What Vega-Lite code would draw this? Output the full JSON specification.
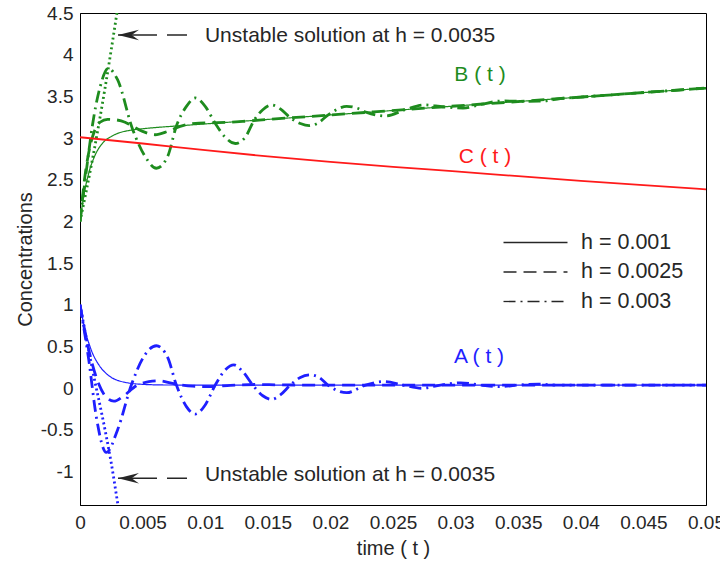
{
  "$schema": "https://vega.github.io/schema/vega-lite/v6.json",
  "width": 626,
  "height": 492,
  "autosize": {"type": "none"},
  "padding": {"left": 80, "top": 13, "right": 14, "bottom": 57},
  "background": "white",
  "config": {
    "font": "Liberation Sans",
    "view": {"stroke": "#000000", "strokeWidth": 1},
    "axis": {
      "domainColor": "#000000",
      "domainWidth": 1,
      "ticks": false,
      "grid": false,
      "labelFont": "Liberation Sans",
      "labelFontSize": 19,
      "labelColor": "#262626",
      "titleFont": "Liberation Sans",
      "titleFontSize": 20,
      "titleFontWeight": "normal",
      "titleColor": "#262626"
    }
  },
  "datasets": {
    "xticks": [
      {"t": 0.005}, {"t": 0.01}, {"t": 0.015}, {"t": 0.02}, {"t": 0.025},
      {"t": 0.03}, {"t": 0.035}, {"t": 0.04}, {"t": 0.045}
    ],
    "yticks": [
      {"v": -1}, {"v": -0.5}, {"v": 0}, {"v": 0.5}, {"v": 1}, {"v": 1.5},
      {"v": 2}, {"v": 2.5}, {"v": 3}, {"v": 3.5}, {"v": 4}
    ],
    "curves": [
      {"sp": "A", "h": "h = 0.001", "t": 0, "v": 1},
      {"sp": "A", "h": "h = 0.001", "t": 0.0002, "v": 0.84},
      {"sp": "A", "h": "h = 0.001", "t": 0.0004, "v": 0.70},
      {"sp": "A", "h": "h = 0.001", "t": 0.0006, "v": 0.59},
      {"sp": "A", "h": "h = 0.001", "t": 0.0008, "v": 0.50},
      {"sp": "A", "h": "h = 0.001", "t": 0.001, "v": 0.42},
      {"sp": "A", "h": "h = 0.001", "t": 0.0013, "v": 0.33},
      {"sp": "A", "h": "h = 0.001", "t": 0.0016, "v": 0.26},
      {"sp": "A", "h": "h = 0.001", "t": 0.002, "v": 0.19},
      {"sp": "A", "h": "h = 0.001", "t": 0.0025, "v": 0.13},
      {"sp": "A", "h": "h = 0.001", "t": 0.003, "v": 0.095},
      {"sp": "A", "h": "h = 0.001", "t": 0.0035, "v": 0.074},
      {"sp": "A", "h": "h = 0.001", "t": 0.004, "v": 0.06},
      {"sp": "A", "h": "h = 0.001", "t": 0.005, "v": 0.047},
      {"sp": "A", "h": "h = 0.001", "t": 0.006, "v": 0.041},
      {"sp": "A", "h": "h = 0.001", "t": 0.007, "v": 0.039},
      {"sp": "A", "h": "h = 0.001", "t": 0.01, "v": 0.038},
      {"sp": "A", "h": "h = 0.001", "t": 0.02, "v": 0.038},
      {"sp": "A", "h": "h = 0.001", "t": 0.03, "v": 0.038},
      {"sp": "A", "h": "h = 0.001", "t": 0.04, "v": 0.038},
      {"sp": "A", "h": "h = 0.001", "t": 0.05, "v": 0.038},

      {"sp": "A", "h": "h = 0.0025", "t": 0, "v": 1},
      {"sp": "A", "h": "h = 0.0025", "t": 0.0005, "v": 0.6},
      {"sp": "A", "h": "h = 0.0025", "t": 0.001, "v": 0.28},
      {"sp": "A", "h": "h = 0.0025", "t": 0.0015, "v": 0.05},
      {"sp": "A", "h": "h = 0.0025", "t": 0.002, "v": -0.09},
      {"sp": "A", "h": "h = 0.0025", "t": 0.0027, "v": -0.155},
      {"sp": "A", "h": "h = 0.0025", "t": 0.0035, "v": -0.09},
      {"sp": "A", "h": "h = 0.0025", "t": 0.0045, "v": 0.03},
      {"sp": "A", "h": "h = 0.0025", "t": 0.0055, "v": 0.08},
      {"sp": "A", "h": "h = 0.0025", "t": 0.0062, "v": 0.09},
      {"sp": "A", "h": "h = 0.0025", "t": 0.0075, "v": 0.055},
      {"sp": "A", "h": "h = 0.0025", "t": 0.009, "v": 0.025},
      {"sp": "A", "h": "h = 0.0025", "t": 0.0105, "v": 0.02},
      {"sp": "A", "h": "h = 0.0025", "t": 0.012, "v": 0.035},
      {"sp": "A", "h": "h = 0.0025", "t": 0.014, "v": 0.045},
      {"sp": "A", "h": "h = 0.0025", "t": 0.016, "v": 0.04},
      {"sp": "A", "h": "h = 0.0025", "t": 0.02, "v": 0.038},
      {"sp": "A", "h": "h = 0.0025", "t": 0.05, "v": 0.038},

      {"sp": "A", "h": "h = 0.003", "t": 0, "v": 1},
      {"sp": "A", "h": "h = 0.003", "t": 0.0007, "v": 0.34},
      {"sp": "A", "h": "h = 0.003", "t": 0.0013, "v": -0.34},
      {"sp": "A", "h": "h = 0.003", "t": 0.0021, "v": -0.77},
      {"sp": "A", "h": "h = 0.003", "t": 0.003, "v": -0.5},
      {"sp": "A", "h": "h = 0.003", "t": 0.0041, "v": 0.038},
      {"sp": "A", "h": "h = 0.003", "t": 0.0051, "v": 0.38},
      {"sp": "A", "h": "h = 0.003", "t": 0.0061, "v": 0.51},
      {"sp": "A", "h": "h = 0.003", "t": 0.007, "v": 0.37},
      {"sp": "A", "h": "h = 0.003", "t": 0.0077, "v": 0.038},
      {"sp": "A", "h": "h = 0.003", "t": 0.0085, "v": -0.22},
      {"sp": "A", "h": "h = 0.003", "t": 0.0092, "v": -0.31},
      {"sp": "A", "h": "h = 0.003", "t": 0.01, "v": -0.2},
      {"sp": "A", "h": "h = 0.003", "t": 0.0108, "v": 0.038},
      {"sp": "A", "h": "h = 0.003", "t": 0.0116, "v": 0.22},
      {"sp": "A", "h": "h = 0.003", "t": 0.0123, "v": 0.28},
      {"sp": "A", "h": "h = 0.003", "t": 0.013, "v": 0.2},
      {"sp": "A", "h": "h = 0.003", "t": 0.0138, "v": 0.038},
      {"sp": "A", "h": "h = 0.003", "t": 0.0146, "v": -0.09},
      {"sp": "A", "h": "h = 0.003", "t": 0.0153, "v": -0.133},
      {"sp": "A", "h": "h = 0.003", "t": 0.016, "v": -0.08},
      {"sp": "A", "h": "h = 0.003", "t": 0.0168, "v": 0.038},
      {"sp": "A", "h": "h = 0.003", "t": 0.0176, "v": 0.13},
      {"sp": "A", "h": "h = 0.003", "t": 0.0184, "v": 0.16},
      {"sp": "A", "h": "h = 0.003", "t": 0.0191, "v": 0.13},
      {"sp": "A", "h": "h = 0.003", "t": 0.0198, "v": 0.038},
      {"sp": "A", "h": "h = 0.003", "t": 0.0213, "v": -0.053},
      {"sp": "A", "h": "h = 0.003", "t": 0.0228, "v": 0.038},
      {"sp": "A", "h": "h = 0.003", "t": 0.0243, "v": 0.08},
      {"sp": "A", "h": "h = 0.003", "t": 0.0258, "v": 0.038},
      {"sp": "A", "h": "h = 0.003", "t": 0.0273, "v": 0.0},
      {"sp": "A", "h": "h = 0.003", "t": 0.0288, "v": 0.038},
      {"sp": "A", "h": "h = 0.003", "t": 0.0304, "v": 0.065},
      {"sp": "A", "h": "h = 0.003", "t": 0.032, "v": 0.038},
      {"sp": "A", "h": "h = 0.003", "t": 0.0335, "v": 0.02},
      {"sp": "A", "h": "h = 0.003", "t": 0.035, "v": 0.038},
      {"sp": "A", "h": "h = 0.003", "t": 0.0366, "v": 0.05},
      {"sp": "A", "h": "h = 0.003", "t": 0.038, "v": 0.038},
      {"sp": "A", "h": "h = 0.003", "t": 0.05, "v": 0.038},

      {"sp": "A", "h": "h = 0.0035", "t": 0, "v": 1},
      {"sp": "A", "h": "h = 0.0035", "t": 0.001, "v": 0.22},
      {"sp": "A", "h": "h = 0.0035", "t": 0.002, "v": -0.5},
      {"sp": "A", "h": "h = 0.0035", "t": 0.0025, "v": -0.9},
      {"sp": "A", "h": "h = 0.0035", "t": 0.003, "v": -1.37},
      {"sp": "A", "h": "h = 0.0035", "t": 0.0035, "v": -1.85},

      {"sp": "B", "h": "h = 0.001", "t": 0, "v": 2.0},
      {"sp": "B", "h": "h = 0.001", "t": 0.0002, "v": 2.21},
      {"sp": "B", "h": "h = 0.001", "t": 0.0004, "v": 2.39},
      {"sp": "B", "h": "h = 0.001", "t": 0.0006, "v": 2.52},
      {"sp": "B", "h": "h = 0.001", "t": 0.0008, "v": 2.635},
      {"sp": "B", "h": "h = 0.001", "t": 0.001, "v": 2.72},
      {"sp": "B", "h": "h = 0.001", "t": 0.0013, "v": 2.826},
      {"sp": "B", "h": "h = 0.001", "t": 0.0016, "v": 2.9},
      {"sp": "B", "h": "h = 0.001", "t": 0.002, "v": 2.97},
      {"sp": "B", "h": "h = 0.001", "t": 0.0025, "v": 3.02},
      {"sp": "B", "h": "h = 0.001", "t": 0.003, "v": 3.056},
      {"sp": "B", "h": "h = 0.001", "t": 0.004, "v": 3.093},
      {"sp": "B", "h": "h = 0.001", "t": 0.005, "v": 3.112},
      {"sp": "B", "h": "h = 0.001", "t": 0.006, "v": 3.126},
      {"sp": "B", "h": "h = 0.001", "t": 0.008, "v": 3.148},
      {"sp": "B", "h": "h = 0.001", "t": 0.01, "v": 3.17},
      {"sp": "B", "h": "h = 0.001", "t": 0.02, "v": 3.277},
      {"sp": "B", "h": "h = 0.001", "t": 0.03, "v": 3.385},
      {"sp": "B", "h": "h = 0.001", "t": 0.04, "v": 3.492},
      {"sp": "B", "h": "h = 0.001", "t": 0.05, "v": 3.6},

      {"sp": "B", "h": "h = 0.0025", "t": 0, "v": 2.0},
      {"sp": "B", "h": "h = 0.0025", "t": 0.0004, "v": 2.55},
      {"sp": "B", "h": "h = 0.0025", "t": 0.0008, "v": 2.9},
      {"sp": "B", "h": "h = 0.0025", "t": 0.0012, "v": 3.1},
      {"sp": "B", "h": "h = 0.0025", "t": 0.0016, "v": 3.19},
      {"sp": "B", "h": "h = 0.0025", "t": 0.0022, "v": 3.225},
      {"sp": "B", "h": "h = 0.0025", "t": 0.0028, "v": 3.22},
      {"sp": "B", "h": "h = 0.0025", "t": 0.0036, "v": 3.19},
      {"sp": "B", "h": "h = 0.0025", "t": 0.004, "v": 3.16},
      {"sp": "B", "h": "h = 0.0025", "t": 0.005, "v": 3.08},
      {"sp": "B", "h": "h = 0.0025", "t": 0.006, "v": 3.04},
      {"sp": "B", "h": "h = 0.0025", "t": 0.007, "v": 3.08},
      {"sp": "B", "h": "h = 0.0025", "t": 0.008, "v": 3.14},
      {"sp": "B", "h": "h = 0.0025", "t": 0.0095, "v": 3.18},
      {"sp": "B", "h": "h = 0.0025", "t": 0.011, "v": 3.185},
      {"sp": "B", "h": "h = 0.0025", "t": 0.013, "v": 3.2},
      {"sp": "B", "h": "h = 0.0025", "t": 0.015, "v": 3.223},
      {"sp": "B", "h": "h = 0.0025", "t": 0.02, "v": 3.277},
      {"sp": "B", "h": "h = 0.0025", "t": 0.03, "v": 3.385},
      {"sp": "B", "h": "h = 0.0025", "t": 0.04, "v": 3.492},
      {"sp": "B", "h": "h = 0.0025", "t": 0.05, "v": 3.6},

      {"sp": "B", "h": "h = 0.003", "t": 0, "v": 2.0},
      {"sp": "B", "h": "h = 0.003", "t": 0.0005, "v": 2.6},
      {"sp": "B", "h": "h = 0.003", "t": 0.001, "v": 3.16},
      {"sp": "B", "h": "h = 0.003", "t": 0.0016, "v": 3.61},
      {"sp": "B", "h": "h = 0.003", "t": 0.00226, "v": 3.836},
      {"sp": "B", "h": "h = 0.003", "t": 0.003, "v": 3.7},
      {"sp": "B", "h": "h = 0.003", "t": 0.0042, "v": 3.107},
      {"sp": "B", "h": "h = 0.003", "t": 0.0052, "v": 2.78},
      {"sp": "B", "h": "h = 0.003", "t": 0.0061, "v": 2.638},
      {"sp": "B", "h": "h = 0.003", "t": 0.007, "v": 2.78},
      {"sp": "B", "h": "h = 0.003", "t": 0.0077, "v": 3.145},
      {"sp": "B", "h": "h = 0.003", "t": 0.0085, "v": 3.38},
      {"sp": "B", "h": "h = 0.003", "t": 0.0092, "v": 3.481},
      {"sp": "B", "h": "h = 0.003", "t": 0.01, "v": 3.38},
      {"sp": "B", "h": "h = 0.003", "t": 0.0108, "v": 3.178},
      {"sp": "B", "h": "h = 0.003", "t": 0.0116, "v": 3.01},
      {"sp": "B", "h": "h = 0.003", "t": 0.0124, "v": 2.935},
      {"sp": "B", "h": "h = 0.003", "t": 0.0132, "v": 3.01},
      {"sp": "B", "h": "h = 0.003", "t": 0.0139, "v": 3.212},
      {"sp": "B", "h": "h = 0.003", "t": 0.0146, "v": 3.34},
      {"sp": "B", "h": "h = 0.003", "t": 0.0153, "v": 3.397},
      {"sp": "B", "h": "h = 0.003", "t": 0.016, "v": 3.35},
      {"sp": "B", "h": "h = 0.003", "t": 0.0168, "v": 3.243},
      {"sp": "B", "h": "h = 0.003", "t": 0.0176, "v": 3.175},
      {"sp": "B", "h": "h = 0.003", "t": 0.0183, "v": 3.149},
      {"sp": "B", "h": "h = 0.003", "t": 0.019, "v": 3.18},
      {"sp": "B", "h": "h = 0.003", "t": 0.0198, "v": 3.275},
      {"sp": "B", "h": "h = 0.003", "t": 0.0206, "v": 3.35},
      {"sp": "B", "h": "h = 0.003", "t": 0.0213, "v": 3.381},
      {"sp": "B", "h": "h = 0.003", "t": 0.0221, "v": 3.36},
      {"sp": "B", "h": "h = 0.003", "t": 0.0229, "v": 3.308},
      {"sp": "B", "h": "h = 0.003", "t": 0.0244, "v": 3.265},
      {"sp": "B", "h": "h = 0.003", "t": 0.026, "v": 3.342},
      {"sp": "B", "h": "h = 0.003", "t": 0.0275, "v": 3.398},
      {"sp": "B", "h": "h = 0.003", "t": 0.029, "v": 3.374},
      {"sp": "B", "h": "h = 0.003", "t": 0.0306, "v": 3.361},
      {"sp": "B", "h": "h = 0.003", "t": 0.0321, "v": 3.407},
      {"sp": "B", "h": "h = 0.003", "t": 0.0337, "v": 3.445},
      {"sp": "B", "h": "h = 0.003", "t": 0.0352, "v": 3.441},
      {"sp": "B", "h": "h = 0.003", "t": 0.0368, "v": 3.443},
      {"sp": "B", "h": "h = 0.003", "t": 0.0385, "v": 3.476},
      {"sp": "B", "h": "h = 0.003", "t": 0.04, "v": 3.492},
      {"sp": "B", "h": "h = 0.003", "t": 0.045, "v": 3.546},
      {"sp": "B", "h": "h = 0.003", "t": 0.05, "v": 3.6},

      {"sp": "B", "h": "h = 0.0035", "t": 0, "v": 2.0},
      {"sp": "B", "h": "h = 0.0035", "t": 0.001, "v": 2.75},
      {"sp": "B", "h": "h = 0.0035", "t": 0.002, "v": 3.6},
      {"sp": "B", "h": "h = 0.0035", "t": 0.003, "v": 4.55},
      {"sp": "B", "h": "h = 0.0035", "t": 0.0035, "v": 5.05}
    ],
    "cline": [
      {"sp": "C", "t": 0, "v": 3.01},
      {"sp": "C", "t": 0.005, "v": 2.935},
      {"sp": "C", "t": 0.01, "v": 2.855},
      {"sp": "C", "t": 0.015, "v": 2.78},
      {"sp": "C", "t": 0.02, "v": 2.715},
      {"sp": "C", "t": 0.025, "v": 2.655},
      {"sp": "C", "t": 0.03, "v": 2.6},
      {"sp": "C", "t": 0.035, "v": 2.543},
      {"sp": "C", "t": 0.04, "v": 2.488},
      {"sp": "C", "t": 0.045, "v": 2.435},
      {"sp": "C", "t": 0.05, "v": 2.385}
    ],
    "labels": [
      {"txt": "B ( t )", "sp": "B", "t": 0.03195, "v": 3.757},
      {"txt": "C ( t )", "sp": "C", "t": 0.03235, "v": 2.773},
      {"txt": "A ( t )", "sp": "A", "t": 0.03187, "v": 0.375}
    ],
    "notes": [
      {"txt": "Unstable solution at h = 0.0035", "t": 0.00998, "v": 4.22},
      {"txt": "Unstable solution at h = 0.0035", "t": 0.00998, "v": -1.04}
    ],
    "arrows": [
      {"t": 0.003035, "t2": 0.00855, "v": 4.236},
      {"t": 0.003035, "t2": 0.00855, "v": -1.079}
    ]
  },
  "encoding": {
    "x": {
      "field": "t", "type": "quantitative",
      "scale": {"domain": [0, 0.05], "nice": false, "zero": false},
      "axis": {
        "orient": "bottom",
        "values": [0, 0.005, 0.01, 0.015, 0.02, 0.025, 0.03, 0.035, 0.04, 0.045, 0.05],
        "labelExpr": "'' + datum.value",
        "title": "time ( t )",
        "labelPadding": 8,
        "titlePadding": 6,
        "labelFlush": false,
        "labelOverlap": false
      }
    },
    "y": {
      "field": "v", "type": "quantitative",
      "scale": {"domain": [-1.4, 4.5], "nice": false, "zero": false},
      "axis": {
        "orient": "left",
        "values": [-1, -0.5, 0, 0.5, 1, 1.5, 2, 2.5, 3, 3.5, 4, 4.5],
        "labelExpr": "'' + datum.value",
        "title": "Concentrations",
        "labelPadding": 7,
        "titlePadding": 5,
        "labelFlush": false,
        "labelOverlap": false
      }
    }
  },
  "layer": [
    {
      "data": {"name": "curves"},
      "mark": {"type": "line", "interpolate": "monotone", "clip": true, "strokeCap": "butt"},
      "encoding": {
        "color": {
          "field": "sp", "type": "nominal",
          "scale": {"domain": ["A", "B", "C"], "range": ["#1f1fff", "#1e8c1e", "#ff1a1a"]},
          "legend": null
        },
        "strokeDash": {
          "field": "h", "type": "nominal",
          "scale": {
            "domain": ["h = 0.001", "h = 0.0025", "h = 0.003", "h = 0.0035"],
            "range": [[1, 0], [13, 7], [12, 5, 2, 5], [2, 3]]
          },
          "legend": {
            "title": null,
            "orient": "none",
            "legendX": 444,
            "legendY": 218,
            "values": ["h = 0.001", "h = 0.0025", "h = 0.003"],
            "symbolType": "M-3,0H3",
            "symbolSize": 455,
            "symbolStrokeColor": "#262626",
            "symbolFillColor": "transparent",
            "symbolStrokeWidth": 1.3,
            "labelOffset": 34,
            "labelFontSize": 21.5,
            "labelFont": "Liberation Sans",
            "labelColor": "#262626",
            "rowPadding": 7.5,
            "padding": 0
          }
        },
        "strokeWidth": {"condition": {"test": "datum.h == 'h = 0.001'", "value": 1.2}, "value": 2.8}
      }
    },
    {
      "data": {"name": "cline"},
      "mark": {"type": "line", "strokeWidth": 1.8, "interpolate": "monotone"},
      "encoding": {
        "color": {"field": "sp", "type": "nominal", "legend": null}
      }
    },
    {
      "data": {"name": "labels"},
      "mark": {"type": "text", "align": "center", "baseline": "middle", "fontSize": 21, "font": "Liberation Sans"},
      "encoding": {
        "text": {"field": "txt"},
        "color": {"field": "sp", "type": "nominal", "legend": null}
      }
    },
    {
      "data": {"name": "notes"},
      "mark": {"type": "text", "align": "left", "baseline": "middle", "fontSize": 21, "font": "Liberation Sans", "color": "#262626"},
      "encoding": {"text": {"field": "txt"}}
    },
    {
      "data": {"name": "arrows"},
      "mark": {"type": "rule", "strokeDash": [39, 10, 20, 10], "strokeWidth": 1.3, "color": "#262626"},
      "encoding": {"x2": {"field": "t2"}}
    },
    {
      "data": {"name": "arrows"},
      "mark": {"type": "point", "shape": "M0,0L2,-0.5L1.3,0L2,0.5Z", "size": 441, "filled": true, "color": "#262626", "opacity": 1, "strokeWidth": 0},
      "encoding": {}
    },
    {
      "data": {"name": "xticks"},
      "mark": {"type": "rule", "color": "#000000", "strokeWidth": 1, "y2Offset": 5},
      "encoding": {
        "y": {"datum": 4.5, "type": "quantitative"},
        "y2": {"datum": 4.5}
      }
    },
    {
      "data": {"name": "xticks"},
      "mark": {"type": "rule", "color": "#000000", "strokeWidth": 1, "y2Offset": -5},
      "encoding": {
        "y": {"datum": -1.4, "type": "quantitative"},
        "y2": {"datum": -1.4}
      }
    },
    {
      "data": {"name": "yticks"},
      "mark": {"type": "rule", "color": "#000000", "strokeWidth": 1, "x2Offset": 5},
      "encoding": {
        "x": {"datum": 0, "type": "quantitative"},
        "x2": {"datum": 0}
      }
    },
    {
      "data": {"name": "yticks"},
      "mark": {"type": "rule", "color": "#000000", "strokeWidth": 1, "x2Offset": -5},
      "encoding": {
        "x": {"datum": 0.05, "type": "quantitative"},
        "x2": {"datum": 0.05}
      }
    },
    {
      "data": {"values": [{}]},
      "mark": {"type": "rect", "filled": false, "stroke": "#000000", "strokeWidth": 1},
      "encoding": {
        "x": {"datum": 0, "type": "quantitative"},
        "x2": {"datum": 0.05},
        "y": {"datum": -1.4, "type": "quantitative"},
        "y2": {"datum": 4.5}
      }
    }
  ]
}
